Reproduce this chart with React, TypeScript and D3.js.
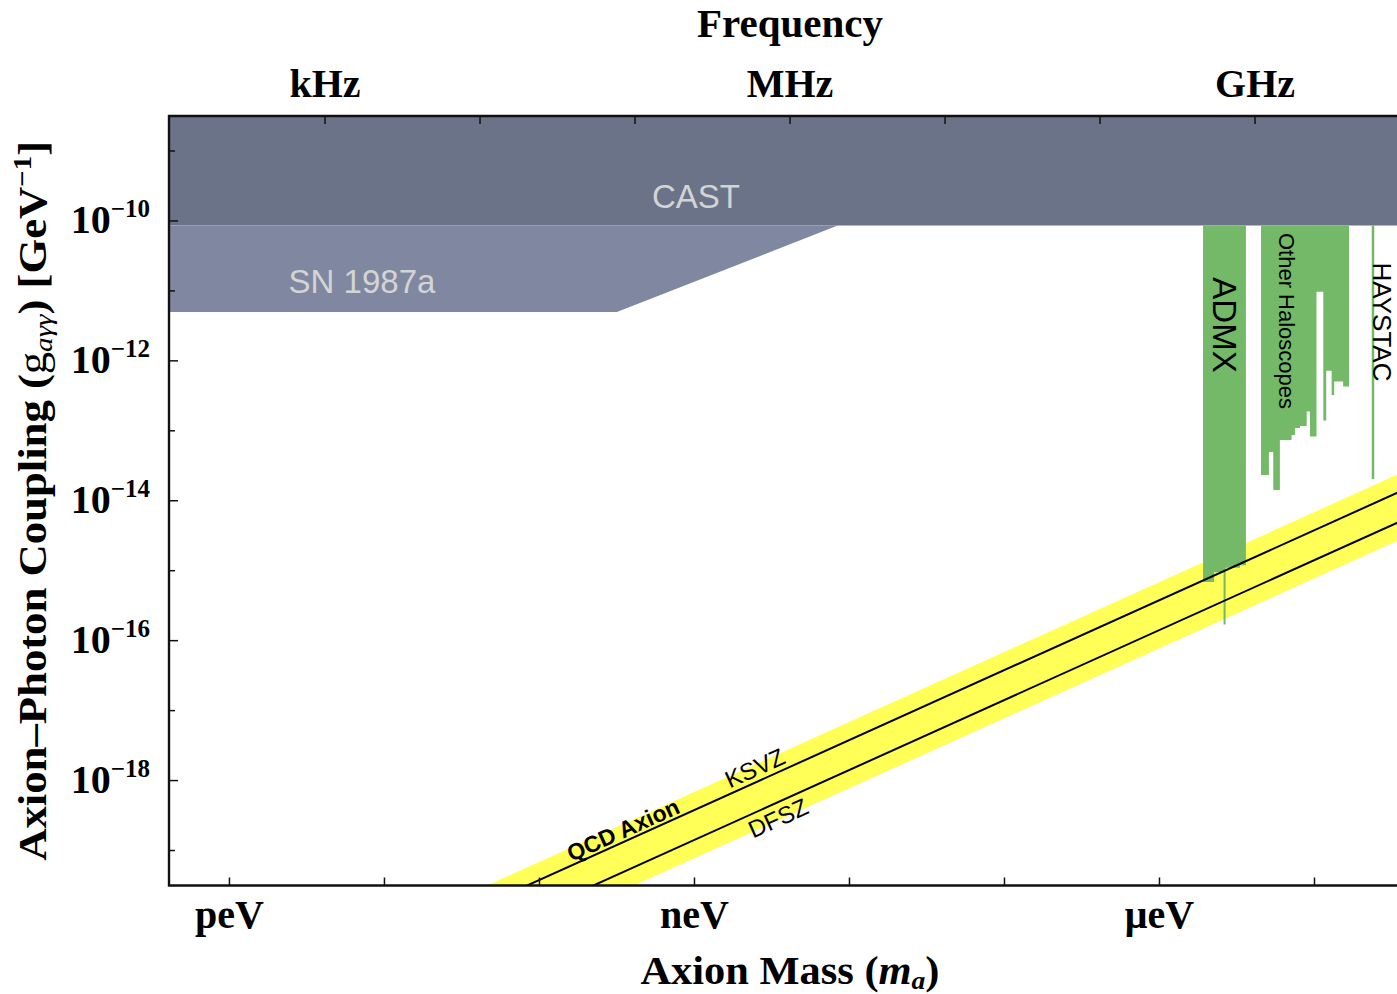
import React from 'react';
import * as d3 from 'd3';

// axis ticks
const massTicks = [1e-12, 1e-9, 1e-6];
const massTickLabels = ['peV', 'neV', 'μeV'];
const freqTicks = [1e3, 1e6, 1e9];
const freqTickLabels = ['kHz', 'MHz', 'GHz'];
const couplingTicks = [1e-10, 1e-12, 1e-14, 1e-16, 1e-18];
const couplingExponents = ['−10', '−12', '−14', '−16', '−18'];
const PLANCK_EV_S = 4.135667e-15;

// excluded regions
const castLimit = 8.6e-11;
const snMass = [1e-13, 3.16e-10, 8.4e-9];
const snCoupling = [5.0e-12, 5.0e-12, 8.6e-11];

const admxMassLo = [1.91e-6, 2.25e-6, 2.59e-6, 2.67e-6, 3.31e-6];
const admxMassHi = [2.25e-6, 2.59e-6, 2.67e-6, 3.31e-6, 3.61e-6];
const admxLimit = [6.9e-16, 9.5e-16, 1.7e-16, 1.1e-15, 1.2e-15];

const haloEdges = [4.52e-6, 5.08e-6, 5.42e-6, 5.98e-6, 7.12e-6, 7.48e-6, 8.06e-6, 8.91e-6,
  9.35e-6, 1.03e-5, 1.14e-5, 1.19e-5, 1.29e-5, 1.34e-5, 1.53e-5, 1.67e-5];
const haloLimit = [2.34e-14, 4.99e-14, 1.43e-14, 7.41e-14, 8.73e-14, 1.10e-13, 1.17e-13, 1.88e-13,
  8.26e-14, 9.75e-12, 1.40e-13, 7.24e-13, 3.26e-13, 5.05e-13, 4.28e-13];

const haystacMass = [2.34e-5, 2.43e-5];
const haystacLimit = 2.05e-14;

// QCD axion band
const qcdMass = [1e-12, 1e-4];
const bandUpper = [6.9e-22, 6.9e-14];
const bandLower = [7.8e-23, 7.8e-15];
const ksvzCoupling = [3.8e-22, 3.8e-14];
const dfszCoupling = [1.42e-22, 1.42e-14];

const W = 1397, H = 994;
const left = 169, top = 116, bottom = 885.5;
const serif = '"Liberation Serif", "DejaVu Serif", serif';
const sans = '"Liberation Sans", Arial, sans-serif';
const green = '#74b967';

export default function App() {
  const x = d3.scaleLog().domain([10 ** -12.39, 10 ** -4.3]).range([left, left + 1254]);
  const y = d3.scaleLog().domain([10 ** -19.5, 10 ** -8.5]).range([bottom, top]);
  const right = x.range()[1];
  const mMax = x.domain()[1];

  const line = d3.line<[number, number]>().x(d => x(d[0])).y(d => y(d[1]));
  const pts = (ms: number[], gs: number[]) => ms.map((m, i) => [m, gs[i]] as [number, number]);
  const stepArea = d3.area<[number, number]>()
    .x(d => x(d[0])).y0(y(castLimit)).y1(d => y(d[1])).curve(d3.curveStepAfter);

  const bandPath = line([...pts(qcdMass, bandUpper), ...pts(qcdMass, bandLower).reverse()]) + 'Z';
  const snPath = line([...pts(snMass, snCoupling), [mMax, castLimit], [snMass[0], castLimit]]) + 'Z';

  const admxPts: [number, number][] = [
    ...pts(admxMassLo, admxLimit),
    [admxMassHi[admxMassHi.length - 1], admxLimit[admxLimit.length - 1]],
  ];
  const haloPts: [number, number][] = haloEdges.map((m, i) => [m, haloLimit[Math.min(i, haloLimit.length - 1)]]);
  const haystacPts: [number, number][] = haystacMass.map(m => [m, haystacLimit]);

  const angle = Math.atan2(y(ksvzCoupling[1]) - y(ksvzCoupling[0]), x(qcdMass[1]) - x(qcdMass[0])) * 180 / Math.PI;

  const decades = d3.range(-12, -3).map(e => 10 ** e);
  const yDecades = d3.range(-19, -8).map(e => 10 ** e);
  const freqDecades = d3.range(3, 11).map(e => 10 ** e * PLANCK_EV_S).filter(m => x(m) > left + 5);

  const bandLabel = (m: number, g: number, txt: string, bold: boolean, fs: number) => (
    <text transform={`translate(${x(m)},${y(g)}) rotate(${angle})`} textAnchor="middle"
      dominantBaseline="central" fontFamily={sans} fontSize={fs} fontWeight={bold ? 'bold' : 'normal'}>{txt}</text>
  );

  return (
    <svg width={W} height={H} style={{ position: 'absolute', left: 0, top: 0, background: '#fff' }}>
      <defs>
        <clipPath id="plot"><rect x={left} y={top} width={right - left} height={bottom - top} /></clipPath>
      </defs>
      <g clipPath="url(#plot)">
        <path d={bandPath} fill="#ffff58" />
        <rect x={left} y={top} width={right - left} height={y(castLimit) - top} fill="#6b7389" />
        <path d={snPath} fill="#7f88a0" />
        <path d={stepArea(admxPts) || ''} fill={green} />
        <path d={stepArea(haloPts) || ''} fill={green} />
        <path d={stepArea(haystacPts) || ''} fill={green} />
        <path d={line(pts(qcdMass, ksvzCoupling)) || ''} stroke="#000" strokeWidth={2} fill="none" />
        <path d={line(pts(qcdMass, dfszCoupling)) || ''} stroke="#000" strokeWidth={2} fill="none" />
        <text x={696} y={y(castLimit) - 18} textAnchor="middle" fontFamily={sans} fontSize={33} fill="#d4d4d4">CAST</text>
        <text x={362} y={293} textAnchor="middle" fontFamily={sans} fontSize={33} fill="#d4d4d4">SN 1987a</text>
        <text transform={`translate(${(x(admxMassLo[0]) + x(admxMassHi[4])) / 2},325) rotate(90)`} textAnchor="middle"
          dominantBaseline="central" fontFamily={sans} fontSize={33}>ADMX</text>
        <text transform={`translate(${x(haloEdges[0]) + 25},321) rotate(90)`} textAnchor="middle"
          dominantBaseline="central" fontFamily={sans} fontSize={22}>Other Haloscopes</text>
        {bandLabel(3.46e-10, 1.97e-19, 'QCD Axion', true, 23)}
        {bandLabel(2.45e-9, 1.52e-18, 'KSVZ', false, 24)}
        {bandLabel(3.46e-9, 2.92e-19, 'DFSZ', false, 24)}
      </g>
      <text transform={`translate(${x(haystacMass[1]) + 8},322) rotate(90)`} textAnchor="middle"
        dominantBaseline="central" fontFamily={sans} fontSize={26}>HAYSTAC</text>

      {/* ticks */}
      {decades.map((m, i) => (
        <line key={'xt' + i} x1={x(m)} x2={x(m)} y1={bottom} y2={bottom - 8} stroke="#111" strokeWidth={1.5} />
      ))}
      {freqDecades.map((m, i) => (
        <line key={'ft' + i} x1={x(m)} x2={x(m)} y1={top} y2={top + 8} stroke="#111" strokeWidth={1.5} />
      ))}
      {yDecades.map((g, i) => {
        const major = Math.round(Math.log10(g)) % 2 === 0;
        return <line key={'yt' + i} x1={left} x2={left + (major ? 9 : 6)} y1={y(g)} y2={y(g)} stroke="#111" strokeWidth={1.5} />;
      })}
      <path d={`M${right},${top}H${left}V${bottom}H${right}`} fill="none" stroke="#111" strokeWidth={2.4} />

      {/* tick labels */}
      {massTicks.map((m, i) => (
        <text key={'xl' + i} x={x(m)} y={928} textAnchor="middle" fontFamily={serif} fontWeight="bold" fontSize={40}>{massTickLabels[i]}</text>
      ))}
      {freqTicks.map((f, i) => (
        <text key={'fl' + i} x={x(f * PLANCK_EV_S)} y={97} textAnchor="middle" fontFamily={serif} fontWeight="bold" fontSize={40}>{freqTickLabels[i]}</text>
      ))}
      {couplingTicks.map((g, i) => (
        <text key={'yl' + i} x={150} y={y(g) + 12} textAnchor="end" fontFamily={serif} fontWeight="bold" fontSize={40}>
          10<tspan dy={-16} fontSize={25}>{couplingExponents[i]}</tspan>
        </text>
      ))}

      {/* axis titles */}
      <text x={790} y={37} textAnchor="middle" fontFamily={serif} fontWeight="bold" fontSize={40}
        textLength={186} lengthAdjust="spacingAndGlyphs">Frequency</text>
      <text x={790} y={984} textAnchor="middle" fontFamily={serif} fontWeight="bold" fontSize={40}
        textLength={299} lengthAdjust="spacingAndGlyphs">
        Axion Mass (<tspan fontStyle="italic">m</tspan><tspan fontStyle="italic" fontSize={26} dy={5}>a</tspan><tspan dy={-5}>)</tspan>
      </text>
      <text transform={`translate(46,${(top + bottom) / 2}) rotate(-90)`} textAnchor="middle" fontFamily={serif} fontWeight="bold" fontSize={40}
        textLength={720} lengthAdjust="spacingAndGlyphs">
        Axion–Photon Coupling (<tspan fontWeight="normal">g</tspan><tspan fontWeight="normal" fontStyle="italic" fontSize={26} dy={6}>aγγ</tspan><tspan dy={-6}>)  [GeV</tspan><tspan fontSize={26} dy={-15}>−1</tspan><tspan dy={15}>]</tspan>
      </text>
    </svg>
  );
}
